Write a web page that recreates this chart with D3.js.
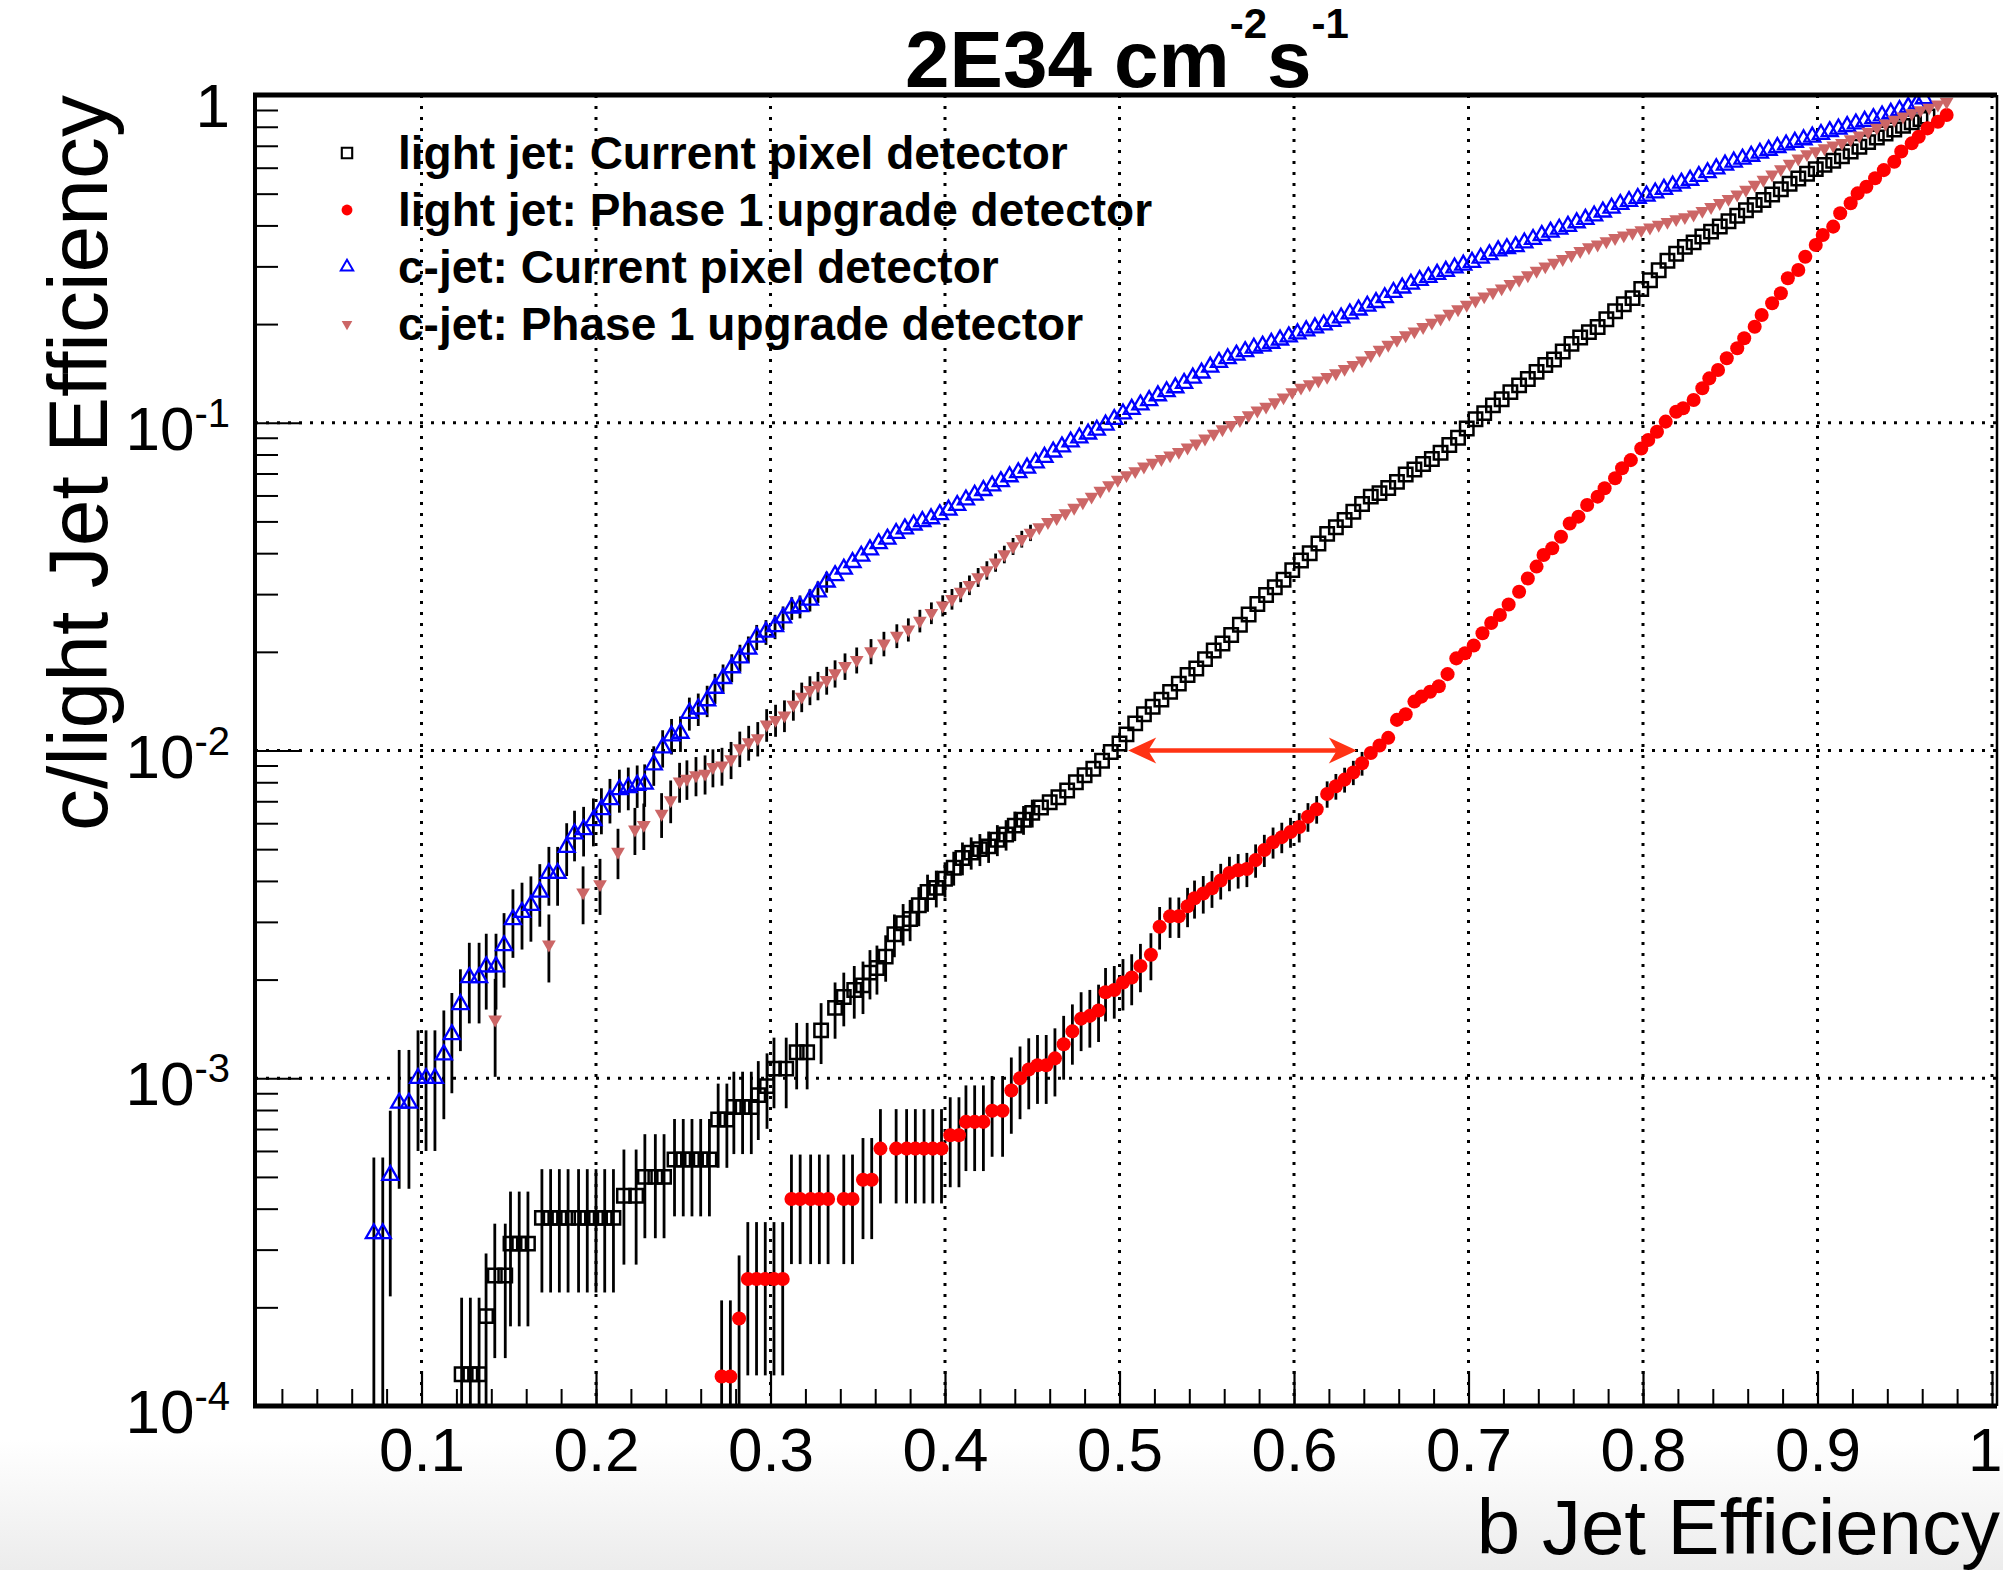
<!DOCTYPE html>
<html>
<head>
<meta charset="utf-8">
<script src="https://cdn.jsdelivr.net/npm/d3@7"></script>
<style>
body { margin: 0; background: #fff; }
svg { display: block; font-family: "Liberation Sans", Arial, Helvetica, sans-serif; }
</style>
</head>
<body>
<svg id="chart"></svg>
<script>
// ---------- data: [b-eff, mistag eff, error] ----------
var blackPts = [
[0.123,1.25e-4,0.89e-4],[0.128,1.25e-4,0.89e-4],[0.133,1.25e-4,0.89e-4],[0.137,1.88e-4,1.04e-4],
[0.142,2.5e-4,1.1e-4],[0.148,2.5e-4,1.1e-4],[0.151,3.13e-4,1.38e-4],[0.156,3.13e-4,1.38e-4],[0.161,3.13e-4,1.38e-4],
[0.169,3.75e-4,1.53e-4],[0.174,3.75e-4,1.53e-4],[0.179,3.75e-4,1.53e-4],[0.184,3.75e-4,1.53e-4],[0.190,3.75e-4,1.53e-4],
[0.195,3.75e-4,1.53e-4],[0.200,3.75e-4,1.53e-4],[0.205,3.75e-4,1.53e-4],[0.210,3.75e-4,1.53e-4],
[0.216,4.38e-4,1.68e-4],[0.223,4.38e-4,1.68e-4],[0.228,5.0e-4,1.75e-4],[0.234,5.0e-4,1.75e-4],[0.239,5.0e-4,1.75e-4],
[0.245,5.65e-4,1.86e-4],[0.250,5.65e-4,1.86e-4],[0.255,5.65e-4,1.86e-4],[0.260,5.65e-4,1.86e-4],[0.265,5.65e-4,1.86e-4],
[0.270,7.48e-4,2.15e-4],[0.275,7.48e-4,2.15e-4],[0.279,8.17e-4,2.3e-4],[0.284,8.17e-4,2.3e-4],[0.289,8.17e-4,2.3e-4],
[0.293,8.88e-4,2.4e-4],[0.298,9.46e-4,2.45e-4],[0.302,1.07e-3,2.6e-4],[0.309,1.07e-3,2.6e-4],
[0.315,1.2e-3,2.75e-4],[0.321,1.2e-3,2.75e-4],[0.329,1.4e-3,2.95e-4],[0.337,1.64e-3,3.2e-4],[0.342,1.77e-3,3.3e-4],
[0.348,1.86e-3,3.4e-4],[0.353,1.92e-3,3.5e-4],[0.357,2.1e-3,3.6e-4],[0.361,2.17e-3,3.7e-4],[0.366,2.35e-3,3.8e-4],
[0.371,2.75e-3,4.1e-4],[0.376,2.97e-3,4.3e-4],[0.380,3.06e-3,4.4e-4],[0.385,3.37e-3,4.6e-4],[0.390,3.7e-3,4.8e-4],
[0.395,3.81e-3,4.9e-4],[0.400,4.06e-3,5.0e-4],[0.405,4.39e-3,5.2e-4],[0.410,4.7e-3,5.4e-4],[0.415,4.88e-3,5.5e-4],
[0.420,5.0e-3,5.6e-4],[0.425,5.1e-3,5.6e-4],[0.430,5.34e-3,5.8e-4],[0.435,5.54e-3,5.9e-4],[0.440,5.9e-3,6.1e-4],
[0.445,6.15e-3,6.2e-4],[0.450,6.45e-3,6.3e-4],
[0.455,6.7e-3],[0.460,6.95e-3],[0.465,7.2e-3],[0.470,7.55e-3],[0.475,8.0e-3],[0.480,8.4e-3],[0.485,8.8e-3],
[0.490,9.3e-3],[0.495,9.9e-3],[0.500,1.05e-2],[0.504,1.12e-2],[0.509,1.21e-2],[0.514,1.29e-2],[0.519,1.36e-2],
[0.524,1.43e-2],[0.529,1.51e-2],[0.534,1.60e-2],[0.539,1.70e-2],[0.544,1.78e-2],[0.549,1.90e-2],[0.554,2.02e-2],
[0.559,2.12e-2],[0.564,2.25e-2],[0.569,2.42e-2],[0.574,2.60e-2],[0.579,2.80e-2],[0.584,2.98e-2],[0.589,3.15e-2],
[0.594,3.32e-2],[0.599,3.55e-2],[0.604,3.80e-2],[0.609,4.0e-2],[0.614,4.28e-2],[0.619,4.58e-2],[0.624,4.80e-2],
[0.629,5.05e-2],[0.634,5.35e-2],[0.639,5.65e-2],[0.644,5.95e-2],[0.649,6.1e-2],[0.654,6.32e-2],[0.659,6.6e-2],
[0.664,6.95e-2],[0.669,7.2e-2],[0.674,7.48e-2],[0.679,7.75e-2],[0.684,8.1e-2],[0.689,8.55e-2],[0.694,9.0e-2],
[0.699,9.6e-2],[0.704,0.1025],[0.709,0.107],[0.714,0.113],[0.719,0.118],[0.724,0.124],[0.729,0.130],[0.734,0.136],
[0.739,0.143],[0.744,0.150],[0.749,0.156],[0.754,0.165],[0.759,0.174],[0.764,0.182],[0.769,0.189],[0.774,0.196],
[0.779,0.207],[0.784,0.219],[0.789,0.230],[0.794,0.240],[0.799,0.256],[0.804,0.272],[0.809,0.292],[0.814,0.312],
[0.819,0.328],[0.824,0.344],[0.829,0.355],[0.834,0.370],[0.839,0.383],[0.844,0.397],[0.849,0.412],[0.854,0.428],
[0.859,0.445],[0.864,0.462],[0.869,0.478],[0.874,0.497],[0.879,0.516],[0.884,0.536],[0.889,0.556],[0.894,0.575],
[0.899,0.594],[0.904,0.612],[0.909,0.630],[0.914,0.650],[0.919,0.672],[0.924,0.695],[0.929,0.718],[0.934,0.742],
[0.939,0.763],[0.944,0.785],[0.949,0.805],[0.954,0.826],[0.959,0.845],[0.963,0.86]
];

var redPts = [
[0.272,1.23e-4,0.87e-4],[0.277,1.23e-4,0.87e-4],[0.282,1.85e-4,1.03e-4],
[0.287,2.44e-4,1.2e-4],[0.292,2.44e-4,1.2e-4],[0.297,2.44e-4,1.2e-4],[0.302,2.44e-4,1.2e-4],[0.307,2.44e-4,1.2e-4],
[0.312,4.28e-4,1.57e-4],[0.317,4.28e-4,1.57e-4],[0.323,4.28e-4,1.57e-4],[0.328,4.28e-4,1.57e-4],[0.333,4.28e-4,1.57e-4],
[0.342,4.28e-4,1.57e-4],[0.347,4.28e-4,1.57e-4],[0.353,4.9e-4,1.67e-4],[0.358,4.9e-4,1.67e-4],[0.363,6.1e-4,1.95e-4],
[0.372,6.1e-4,1.95e-4],[0.378,6.1e-4,1.95e-4],[0.383,6.1e-4,1.95e-4],[0.388,6.1e-4,1.95e-4],[0.393,6.1e-4,1.95e-4],
[0.398,6.1e-4,1.95e-4],[0.403,6.7e-4,2.05e-4],[0.408,6.7e-4,2.05e-4],[0.412,7.36e-4,2.15e-4],[0.417,7.36e-4,2.15e-4],
[0.422,7.36e-4,2.15e-4],[0.427,7.96e-4,2.2e-4],[0.433,7.96e-4,2.2e-4],[0.438,9.17e-4,2.4e-4],[0.443,1.0e-3,2.5e-4],
[0.448,1.064e-3,2.6e-4],[0.453,1.095e-3,2.6e-4],[0.458,1.095e-3,2.6e-4],[0.463,1.15e-3,2.7e-4],[0.468,1.27e-3,2.8e-4],
[0.473,1.39e-3,2.9e-4],[0.478,1.52e-3,3.1e-4],[0.483,1.55e-3,3.1e-4],[0.488,1.61e-3,3.2e-4],[0.492,1.83e-3,3.4e-4],
[0.497,1.86e-3,3.4e-4],[0.502,1.96e-3,3.5e-4],[0.507,2.03e-3,3.6e-4],[0.512,2.2e-3,3.7e-4],[0.518,2.38e-3,3.9e-4],
[0.523,2.9e-3,4.3e-4],[0.529,3.12e-3,4.4e-4],[0.534,3.12e-3,4.4e-4],[0.539,3.35e-3,4.6e-4],[0.543,3.54e-3,4.7e-4],
[0.548,3.66e-3,4.8e-4],[0.553,3.8e-3,4.9e-4],[0.558,4.01e-3,5.0e-4],[0.563,4.23e-3,5.1e-4],[0.568,4.31e-3,5.2e-4],
[0.573,4.35e-3,5.2e-4],[0.578,4.63e-3,5.4e-4],[0.583,4.97e-3,5.6e-4],[0.588,5.25e-3,5.7e-4],[0.593,5.44e-3,5.8e-4],
[0.598,5.64e-3,5.9e-4],[0.603,5.84e-3,6.0e-4],[0.608,6.28e-3,6.3e-4],[0.613,6.62e-3,6.4e-4],[0.619,7.37e-3,6.8e-4],
[0.624,7.78e-3,7.0e-4],[0.629,8.15e-3,7.1e-4],[0.634,8.57e-3,7.3e-4],[0.639,9.14e-3,7.6e-4],
[0.644,9.82e-3],[0.649,1.036e-2],[0.654,1.093e-2],[0.659,1.24e-2],[0.664,1.29e-2],[0.669,1.41e-2],[0.673,1.46e-2],
[0.678,1.51e-2],[0.683,1.57e-2],[0.688,1.71e-2],[0.693,1.91e-2],[0.698,1.98e-2],[0.703,2.09e-2],[0.708,2.28e-2],
[0.713,2.45e-2],[0.718,2.59e-2],[0.723,2.79e-2],[0.729,3.05e-2],[0.734,3.35e-2],[0.739,3.64e-2],[0.743,3.95e-2],
[0.748,4.14e-2],[0.753,4.49e-2],[0.758,4.93e-2],[0.763,5.17e-2],[0.768,5.61e-2],[0.774,5.95e-2],[0.778,6.31e-2],
[0.784,6.77e-2],[0.788,7.26e-2],[0.793,7.69e-2],[0.799,8.35e-2],[0.803,8.86e-2],[0.808,9.39e-2],[0.813,0.1008],
[0.819,0.1081],[0.823,0.1107],[0.829,0.1173],[0.834,0.1274],[0.838,0.1366],[0.843,0.1449],[0.848,0.1573],
[0.854,0.1687],[0.858,0.181],[0.864,0.1963],[0.868,0.2132],[0.874,0.2314],[0.879,0.2483],[0.883,0.2759],
[0.889,0.2924],[0.893,0.321],[0.899,0.3485],[0.903,0.3739],[0.909,0.3966],[0.913,0.4355],[0.919,0.4673],
[0.923,0.501],[0.928,0.525],[0.933,0.557],[0.938,0.59],[0.944,0.626],[0.948,0.672],[0.954,0.712],[0.958,0.746],
[0.963,0.791],[0.969,0.829],[0.974,0.869]
];

var bluePts = [
[0.0727,3.36e-4,2.37e-4],[0.0778,3.36e-4,2.37e-4],[0.0821,5.06e-4,2.9e-4],[0.0872,8.4e-4,3.8e-4],[0.0928,8.4e-4,3.8e-4],
[0.098,1.0e-3,4.0e-4],[0.1026,1.0e-3,4.0e-4],[0.1077,1.0e-3,4.0e-4],[0.1128,1.18e-3,4.3e-4],[0.1174,1.36e-3,4.6e-4],
[0.1223,1.68e-3,4.7e-4],[0.1274,2.03e-3,5.6e-4],[0.133,2.03e-3,5.6e-4],[0.1371,2.19e-3,5.7e-4],[0.1427,2.19e-3,5.7e-4],
[0.1473,2.54e-3,6.5e-4],[0.1524,3.05e-3,7.2e-4],[0.1576,3.21e-3,7.4e-4],[0.1627,3.37e-3,7.6e-4],[0.1678,3.7e-3,8.0e-4],
[0.173,4.22e-3,8.6e-4],[0.178,4.22e-3,8.6e-4],[0.1832,5.07e-3,9.3e-4],[0.1877,5.57e-3,9.8e-4],[0.1929,5.74e-3,9.9e-4],
[0.1985,6.12e-3,1.02e-3],[0.2031,6.61e-3,1.06e-3],[0.208,7.09e-3,1.1e-3],[0.2134,7.6e-3,1.14e-3],[0.2185,7.72e-3,1.15e-3],
[0.2236,7.84e-3,1.16e-3],[0.2279,7.9e-3,1.17e-3],[0.2331,9.05e-3,1.25e-3],[0.2382,1.02e-2,1.33e-3],[0.2433,1.11e-2,1.38e-3],
[0.2484,1.13e-2,1.4e-3],[0.2535,1.30e-2,1.5e-3],[0.2586,1.34e-2,1.52e-3],[0.2637,1.42e-2,1.56e-3],[0.2682,1.55e-2,1.63e-3],
[0.2728,1.66e-2,1.7e-3],[0.2778,1.79e-2,1.76e-3],[0.2825,1.92e-2,1.82e-3],[0.2873,2.04e-2,1.88e-3],[0.2921,2.22e-2,1.96e-3],
[0.2974,2.30e-2,2.0e-3],[0.3026,2.39e-2,2.04e-3],[0.3072,2.54e-2,2.1e-3],[0.3122,2.72e-2,2.17e-3],[0.3169,2.75e-2,2.2e-3],
[0.3226,2.88e-2,2.25e-3],[0.3272,3.05e-2,2.3e-3],[0.3322,3.27e-2,2.4e-3],
[0.337,3.42e-2],[0.342,3.58e-2],[0.347,3.75e-2],[0.352,3.92e-2],[0.357,4.1e-2],[0.362,4.28e-2],[0.367,4.42e-2],
[0.372,4.6e-2],[0.377,4.75e-2],[0.382,4.88e-2],[0.387,5.0e-2],[0.392,5.1e-2],[0.397,5.25e-2],[0.402,5.42e-2],
[0.407,5.6e-2],[0.412,5.82e-2],[0.417,6.02e-2],[0.422,6.22e-2],[0.427,6.42e-2],[0.432,6.62e-2],[0.437,6.85e-2],
[0.442,7.05e-2],[0.447,7.28e-2],[0.452,7.55e-2],[0.457,7.85e-2],[0.462,8.15e-2],[0.467,8.45e-2],[0.472,8.75e-2],
[0.477,9.0e-2],[0.482,9.25e-2],[0.487,9.5e-2],[0.492,9.85e-2],[0.497,0.1025],[0.502,0.1065],[0.507,0.110],
[0.512,0.1135],[0.517,0.117],[0.522,0.121],[0.527,0.1245],[0.532,0.128],[0.537,0.132],[0.542,0.137],[0.547,0.142],
[0.552,0.148],[0.557,0.153],[0.562,0.157],[0.567,0.161],[0.572,0.165],[0.577,0.169],[0.582,0.1715],[0.587,0.175],
[0.592,0.179],[0.597,0.183],[0.602,0.187],[0.607,0.191],[0.612,0.195],[0.617,0.199],[0.622,0.204],[0.627,0.209],
[0.632,0.215],[0.637,0.221],[0.642,0.227],[0.647,0.233],[0.652,0.241],[0.657,0.250],[0.662,0.258],[0.667,0.265],
[0.672,0.272],[0.677,0.278],[0.682,0.284],[0.687,0.29],[0.692,0.297],[0.697,0.303],[0.702,0.309],[0.707,0.318],
[0.712,0.326],[0.717,0.335],[0.722,0.340],[0.727,0.345],[0.732,0.354],[0.737,0.363],[0.742,0.373],[0.747,0.382],
[0.752,0.390],[0.757,0.398],[0.762,0.408],[0.767,0.418],[0.772,0.428],[0.777,0.44],[0.782,0.452],[0.787,0.464],
[0.792,0.474],[0.797,0.484],[0.802,0.492],[0.807,0.503],[0.812,0.516],[0.817,0.528],[0.822,0.539],[0.827,0.55],
[0.832,0.565],[0.837,0.58],[0.842,0.596],[0.847,0.612],[0.852,0.625],[0.857,0.638],[0.862,0.651],[0.867,0.665],
[0.872,0.679],[0.877,0.692],[0.882,0.705],[0.887,0.718],[0.892,0.731],[0.897,0.745],[0.902,0.759],[0.907,0.774],
[0.912,0.788],[0.917,0.802],[0.922,0.817],[0.927,0.832],[0.932,0.848],[0.937,0.864],[0.942,0.88],[0.947,0.898],
[0.952,0.918],[0.957,0.94],[0.961,0.975]
];

var pinkPts = [
[0.1422,1.51e-3,5.0e-4],[0.173,2.56e-3,6.0e-4],[0.1926,3.69e-3,7.4e-4],[0.2023,3.91e-3,7.6e-4],[0.2126,4.91e-3,8.6e-4],
[0.2223,5.74e-3,9.4e-4],[0.2274,5.93e-3,9.6e-4],[0.2376,6.41e-3,1.0e-3],[0.2428,7.05e-3,1.05e-3],[0.2479,8.05e-3,1.12e-3],
[0.2521,8.2e-3,1.13e-3],[0.2573,8.4e-3,1.15e-3],[0.2625,8.5e-3,1.16e-3],[0.267,8.9e-3,1.18e-3],[0.2722,9.0e-3,1.19e-3],
[0.2774,9.4e-3,1.22e-3],[0.2824,1.016e-2,1.26e-3],[0.2875,1.06e-2,1.29e-3],[0.2927,1.09e-2,1.31e-3],[0.2978,1.2e-2,1.37e-3],
[0.3029,1.24e-2,1.39e-3],[0.308,1.28e-2,1.42e-3],[0.3131,1.38e-2,1.47e-3],[0.3179,1.46e-2,1.51e-3],[0.3226,1.53e-2,1.55e-3],
[0.3272,1.58e-2,1.57e-3],[0.3322,1.64e-2,1.6e-3],[0.337,1.72e-2,1.64e-3],[0.3427,1.81e-2,1.68e-3],[0.3494,1.89e-2,1.72e-3],
[0.3576,2.01e-2,1.77e-3],[0.365,2.12e-2,1.82e-3],[0.3724,2.24e-2,1.87e-3],[0.379,2.34e-2,1.9e-3],[0.3856,2.49e-2,1.97e-3],
[0.3922,2.63e-2,2.0e-3],[0.3987,2.77e-2,2.05e-3],[0.404,2.9e-2,2.1e-3],[0.409,3.05e-2,2.15e-3],[0.414,3.2e-2,2.2e-3],
[0.419,3.38e-2,2.25e-3],[0.424,3.55e-2,2.3e-3],[0.429,3.75e-2,2.4e-3],[0.434,3.97e-2,2.45e-3],[0.439,4.2e-2,2.5e-3],
[0.444,4.42e-2,2.6e-3],[0.449,4.62e-2,2.65e-3],
[0.454,4.8e-2],[0.459,4.98e-2],[0.464,5.12e-2],[0.469,5.3e-2],[0.474,5.5e-2],[0.479,5.72e-2],[0.484,5.95e-2],
[0.489,6.2e-2],[0.494,6.45e-2],[0.499,6.7e-2],[0.504,6.92e-2],[0.509,7.12e-2],[0.514,7.35e-2],[0.519,7.55e-2],
[0.524,7.75e-2],[0.529,7.95e-2],[0.534,8.15e-2],[0.539,8.4e-2],[0.544,8.65e-2],[0.549,8.95e-2],[0.554,9.25e-2],
[0.559,9.55e-2],[0.564,9.85e-2],[0.569,0.102],[0.574,0.1055],[0.579,0.109],[0.584,0.112],[0.589,0.1155],
[0.594,0.1195],[0.599,0.124],[0.604,0.128],[0.609,0.131],[0.614,0.1345],[0.619,0.138],[0.624,0.1415],[0.629,0.146],
[0.634,0.150],[0.639,0.155],[0.644,0.161],[0.649,0.167],[0.654,0.173],[0.659,0.179],[0.664,0.185],[0.669,0.19],
[0.674,0.196],[0.679,0.202],[0.684,0.208],[0.689,0.215],[0.694,0.222],[0.699,0.229],[0.704,0.236],[0.709,0.243],
[0.714,0.25],[0.719,0.257],[0.724,0.265],[0.729,0.273],[0.734,0.282],[0.739,0.291],[0.744,0.30],[0.749,0.308],
[0.754,0.316],[0.759,0.325],[0.764,0.334],[0.769,0.343],[0.774,0.35],[0.779,0.358],[0.784,0.366],[0.789,0.373],
[0.794,0.38],[0.799,0.387],[0.804,0.394],[0.809,0.402],[0.814,0.41],[0.819,0.418],[0.824,0.424],[0.829,0.432],
[0.834,0.443],[0.839,0.455],[0.844,0.468],[0.849,0.482],[0.854,0.497],[0.859,0.514],[0.864,0.532],[0.869,0.551],
[0.874,0.572],[0.879,0.594],[0.884,0.617],[0.889,0.64],[0.894,0.66],[0.899,0.674],[0.904,0.688],[0.909,0.701],
[0.914,0.714],[0.919,0.733],[0.924,0.752],[0.929,0.772],[0.934,0.795],[0.939,0.818],[0.944,0.84],[0.949,0.86],
[0.954,0.88],[0.959,0.899],[0.964,0.915],[0.969,0.935],[0.974,0.954]
];

var legendLabels = [
    "light jet: Current pixel detector",
    "light jet: Phase 1 upgrade detector",
    "c-jet: Current pixel detector",
    "c-jet: Phase 1 upgrade detector"
];

var xTickValues = [0.1, 0.2, 0.3, 0.4, 0.5, 0.6, 0.7, 0.8, 0.9, 1];
var xTickLabels = ["0.1", "0.2", "0.3", "0.4", "0.5", "0.6", "0.7", "0.8", "0.9", "1"];
var yDecades = [1e-4, 1e-3, 1e-2, 1e-1, 1];
var yTickLabels = [["10", "-4"], ["10", "-3"], ["10", "-2"], ["10", "-1"], ["1", ""]];

// arrow marking the gain at 1% mistag
var arrowFrom = 0.505, arrowTo = 0.636, arrowLevel = 0.01;

// ---------- layout ----------
var size = { width: 2003, height: 1570, left: 255, right: 1997, top: 95, bottom: 1406 };

var svg = d3.select("#chart")
    .attr("width", size.width)
    .attr("height", size.height);

var x = d3.scaleLinear().domain([0, 1]).range([247, 1992]);
var y = d3.scaleLog().domain([1e-4, 1]).range([size.bottom, size.top]);

var defs = svg.append("defs");
var grad = defs.append("linearGradient").attr("id", "bgfade")
    .attr("x1", 0).attr("y1", 0).attr("x2", 0).attr("y2", 1);
grad.append("stop").attr("offset", 0).attr("stop-color", "#ffffff");
grad.append("stop").attr("offset", 1).attr("stop-color", "#ececec");

defs.append("clipPath").attr("id", "plotclip")
    .append("rect")
    .attr("x", size.left).attr("y", size.top)
    .attr("width", size.right - size.left)
    .attr("height", size.bottom - size.top);

svg.append("rect").attr("width", size.width).attr("height", size.height).attr("fill", "#fff");
svg.append("rect").attr("y", 1440).attr("width", size.width).attr("height", 130).attr("fill", "url(#bgfade)");

// grid (dotted)
var grid = svg.append("g")
    .attr("stroke", "#000")
    .attr("stroke-width", 3)
    .attr("stroke-dasharray", "3 8");
grid.selectAll(".gx").data(xTickValues).join("line")
    .attr("x1", d => x(d)).attr("x2", d => x(d))
    .attr("y1", size.top).attr("y2", size.bottom);
grid.selectAll(".gy").data(yDecades.filter(d => d > 1e-4 && d < 1)).join("line")
    .attr("y1", d => y(d)).attr("y2", d => y(d))
    .attr("x1", size.left).attr("x2", size.right);

// x axis ticks (inward)
var xMinor = d3.range(1, 50).map(i => i * 0.02);
svg.append("g")
    .attr("transform", "translate(0," + size.bottom + ")")
    .call(d3.axisBottom(x).tickValues(xMinor).tickSize(-17).tickFormat(""))
    .call(g => g.select(".domain").remove())
    .selectAll("line").attr("stroke-width", 2);

var xAxis = svg.append("g")
    .attr("transform", "translate(0," + size.bottom + ")")
    .call(d3.axisBottom(x).tickValues(xTickValues).tickSize(-35).tickPadding(21)
        .tickFormat((d, i) => xTickLabels[i]))
    .call(g => g.select(".domain").remove());
xAxis.selectAll("line").attr("stroke-width", 2.2);
xAxis.attr("font-family", null).attr("font-size", 62);
xAxis.selectAll("text").attr("fill", "#000");
// keep the last label inside the page
xAxis.selectAll("text").filter(d => d === 1).attr("text-anchor", "end").attr("x", size.width - 1 - x(1));

// y axis ticks (inward)
var yMinor = [];
yDecades.slice(0, 4).forEach(function (d) {
    for (var k = 2; k <= 9; k++) yMinor.push(d * k);
});
svg.append("g")
    .attr("transform", "translate(" + size.left + ",0)")
    .call(d3.axisLeft(y).tickValues(yMinor).tickSize(-23).tickFormat(""))
    .call(g => g.select(".domain").remove())
    .selectAll("line").attr("stroke-width", 2);
svg.append("g")
    .attr("transform", "translate(" + size.left + ",0)")
    .call(d3.axisLeft(y).tickValues(yDecades).tickSize(-47).tickFormat(""))
    .call(g => g.select(".domain").remove())
    .selectAll("line").attr("stroke-width", 2.2);

// y tick labels, 10^-n style
svg.append("g").attr("font-size", 62)
    .selectAll("text").data(yDecades).join("text")
    .attr("x", 230)
    .attr("y", d => y(d) + (d === 1 ? 32 : 27))
    .attr("text-anchor", "end")
    .each(function (d, i) {
        var t = d3.select(this);
        t.append("tspan").text(yTickLabels[i][0]);
        if (yTickLabels[i][1]) {
            t.append("tspan").attr("font-size", 40).attr("dy", -23).text(yTickLabels[i][1]);
        }
    });

// ---------- series ----------
var series = [
    { pts: blackPts, shape: d3.symbolSquare, size: 180, fill: "none", stroke: "#000", sw: 2.5, rot: 0 },
    { pts: redPts, shape: d3.symbolCircle, size: 155, fill: "#ff0000", stroke: "none", sw: 0, rot: 0 },
    { pts: bluePts, shape: d3.symbolTriangle, size: 112, fill: "none", stroke: "#0000ff", sw: 2.3, rot: 0 },
    { pts: pinkPts, shape: d3.symbolTriangle, size: 82, fill: "#cc6666", stroke: "none", sw: 0, rot: 180 }
];

var plot = svg.append("g").attr("clip-path", "url(#plotclip)");

series.forEach(function (s) {
    var g = plot.append("g");
    // error bars
    g.selectAll("line")
        .data(s.pts.filter(d => d.length > 2))
        .join("line")
        .attr("x1", d => x(d[0])).attr("x2", d => x(d[0]))
        .attr("y1", d => y(Math.max(d[1] - d[2], 1e-6)))
        .attr("y2", d => y(d[1] + d[2]))
        .attr("stroke", "#000")
        .attr("stroke-width", 2.8);
    // markers
    var sym = d3.symbol().type(s.shape).size(s.size);
    g.selectAll("path")
        .data(s.pts)
        .join("path")
        .attr("d", sym)
        .attr("transform", d => "translate(" + x(d[0]) + "," + y(d[1]) + ") rotate(" + s.rot + ")")
        .attr("fill", s.fill)
        .attr("stroke", s.stroke)
        .attr("stroke-width", s.sw);
});

// red double arrow at 1% mistag
var arrowG = svg.append("g").attr("fill", "#ff3314").attr("stroke", "#ff3314");
var ay = y(arrowLevel), ax1 = x(arrowFrom), ax2 = x(arrowTo);
arrowG.append("line")
    .attr("x1", ax1 + 10).attr("x2", ax2 - 10)
    .attr("y1", ay).attr("y2", ay)
    .attr("stroke-width", 4.5);
arrowG.append("path")
    .attr("stroke", "none")
    .attr("d", "M" + ax1 + "," + ay + "L" + (ax1 + 28) + "," + (ay - 13) + "L" + (ax1 + 20) + "," + ay + "L" + (ax1 + 28) + "," + (ay + 13) + "Z");
arrowG.append("path")
    .attr("stroke", "none")
    .attr("d", "M" + ax2 + "," + ay + "L" + (ax2 - 28) + "," + (ay - 13) + "L" + (ax2 - 20) + "," + ay + "L" + (ax2 - 28) + "," + (ay + 13) + "Z");

// frame
var frame = svg.append("g").attr("stroke", "#000");
frame.append("line").attr("x1", size.left).attr("x2", size.left).attr("y1", size.top - 2).attr("y2", size.bottom + 2).attr("stroke-width", 4);
frame.append("line").attr("x1", size.left - 2).attr("x2", size.right).attr("y1", size.bottom).attr("y2", size.bottom).attr("stroke-width", 5);
frame.append("line").attr("x1", size.left - 2).attr("x2", size.right).attr("y1", size.top).attr("y2", size.top).attr("stroke-width", 5);
frame.append("line").attr("x1", size.right).attr("x2", size.right).attr("y1", size.top).attr("y2", size.bottom).attr("stroke-width", 2.5);

// legend
var legend = svg.append("g");
legendLabels.forEach(function (label, i) {
    var cy = 153 + i * 57;
    var s = series[i];
    legend.append("path")
        .attr("d", d3.symbol().type(s.shape).size(s.size * 0.6))
        .attr("transform", "translate(347," + cy + ") rotate(" + s.rot + ")")
        .attr("fill", s.fill)
        .attr("stroke", s.stroke)
        .attr("stroke-width", s.sw * 0.85);
    legend.append("text")
        .attr("x", 398)
        .attr("y", cy + 16)
        .attr("font-size", 46)
        .attr("font-weight", "bold")
        .text(label);
});

// title
var title = svg.append("text")
    .attr("x", 1127).attr("y", 87)
    .attr("text-anchor", "middle")
    .attr("font-weight", "bold")
    .attr("font-size", 80);
title.append("tspan").text("2E34 cm");
title.append("tspan").attr("font-size", 42).attr("dy", -49).text("-2");
title.append("tspan").attr("dy", 49).text("s");
title.append("tspan").attr("font-size", 42).attr("dy", -49).text("-1");

// axis titles
svg.append("text")
    .attr("transform", "translate(107,95) rotate(-90)")
    .attr("text-anchor", "end")
    .attr("font-size", 84)
    .text("c/light Jet Efficiency");

svg.append("text")
    .attr("x", 2000).attr("y", 1554)
    .attr("text-anchor", "end")
    .attr("font-size", 78)
    .text("b Jet Efficiency");
</script>
</body>
</html>
